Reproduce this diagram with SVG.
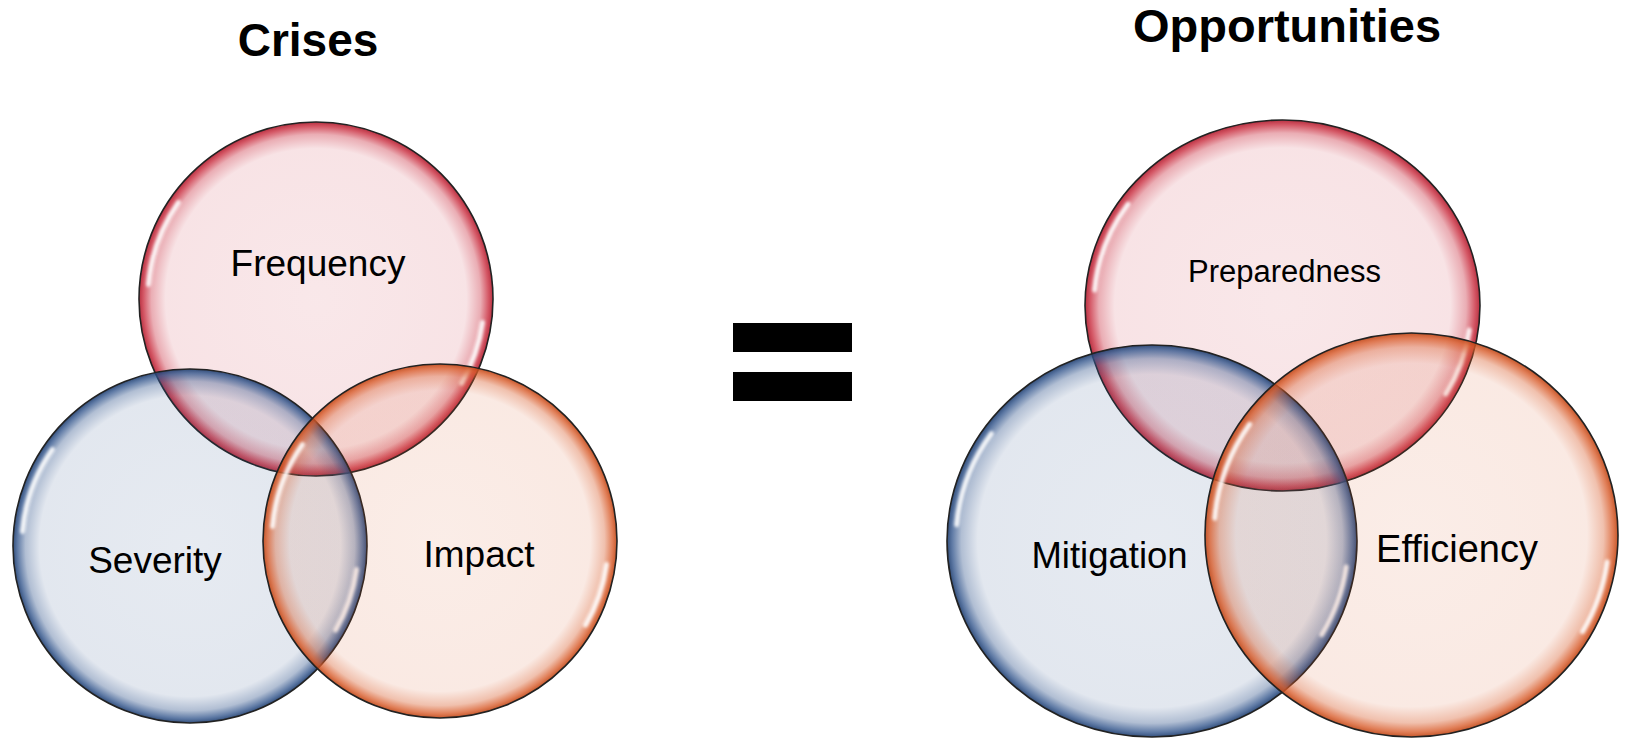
<svg xmlns="http://www.w3.org/2000/svg" width="1632" height="738" viewBox="0 0 1632 738">
<style>
.title{font-family:"Liberation Sans",Arial,sans-serif;font-weight:bold;fill:#000;text-anchor:middle}
.lbl{font-family:"Liberation Sans",Arial,sans-serif;fill:#000;text-anchor:middle}
.bub{stroke:#222;stroke-width:1.6}
.red{fill:url(#gRed)}
.blue{fill:url(#gBlue)}
.orange{fill:url(#gOrange)}
.hl{fill:none;stroke:#fff;stroke-width:5;stroke-linecap:round;opacity:0.9;filter:url(#blur)}
</style>
<defs>
<radialGradient id="gRed" cx="0.5" cy="0.5" r="0.5">
<stop offset="0" stop-color="#C8283A" stop-opacity="0.11"/>
<stop offset="0.85" stop-color="#C8283A" stop-opacity="0.13"/>
<stop offset="0.93" stop-color="#C8283A" stop-opacity="0.38"/>
<stop offset="0.975" stop-color="#C8283A" stop-opacity="0.78"/>
<stop offset="1" stop-color="#B01E30" stop-opacity="0.92"/>
</radialGradient>
<radialGradient id="gBlue" cx="0.5" cy="0.5" r="0.5">
<stop offset="0" stop-color="#32558C" stop-opacity="0.12"/>
<stop offset="0.85" stop-color="#32558C" stop-opacity="0.14"/>
<stop offset="0.93" stop-color="#32558C" stop-opacity="0.38"/>
<stop offset="0.975" stop-color="#32558C" stop-opacity="0.78"/>
<stop offset="1" stop-color="#203F70" stop-opacity="0.92"/>
</radialGradient>
<radialGradient id="gOrange" cx="0.5" cy="0.5" r="0.5">
<stop offset="0" stop-color="#D85A28" stop-opacity="0.11"/>
<stop offset="0.85" stop-color="#D85A28" stop-opacity="0.13"/>
<stop offset="0.93" stop-color="#D85A28" stop-opacity="0.38"/>
<stop offset="0.975" stop-color="#D85A28" stop-opacity="0.78"/>
<stop offset="1" stop-color="#C04818" stop-opacity="0.92"/>
</radialGradient>
<filter id="blur" x="-20%" y="-20%" width="140%" height="140%"><feGaussianBlur stdDeviation="1.5"/></filter>
</defs>
<rect width="1632" height="738" fill="#fff"/>

<text class="title" x="308" y="56" font-size="46">Crises</text>
<text class="title" x="1287" y="42" font-size="47">Opportunities</text>

<g id="n-frequency" transform="translate(316 299)">
<circle class="bub red" r="177"/>
<path class="hl" d="M-167.4,-14.6 A168,168 0 0 1 -137.6,-96.4 M166.4,23.4 A168,168 0 0 1 145.5,84"/>
<text class="lbl" x="2" y="-23" font-size="37">Frequency</text>
</g>
<g id="n-severity" transform="translate(190 546)">
<circle class="bub blue" r="177"/>
<path class="hl" d="M-167.4,-14.6 A168,168 0 0 1 -137.6,-96.4 M166.4,23.4 A168,168 0 0 1 145.5,84"/>
<text class="lbl" x="-35" y="27" font-size="37">Severity</text>
</g>
<g id="n-impact" transform="translate(440 541)">
<circle class="bub orange" r="177"/>
<path class="hl" d="M-167.4,-14.6 A168,168 0 0 1 -137.6,-96.4 M166.4,23.4 A168,168 0 0 1 145.5,84"/>
<text class="lbl" x="39" y="26" font-size="37">Impact</text>
</g>

<g id="n-equals">
<rect x="733" y="323" width="119" height="29" fill="#000"/>
<rect x="733" y="372" width="119" height="29" fill="#000"/>
</g>

<g id="n-preparedness" transform="translate(1282.5 305.5)">
<ellipse class="bub red" rx="197.5" ry="185.5"/>
<path class="hl" d="M-187.8,-15.4 A188.5,176.5 0 0 1 -154.4,-101.2 M186.7,24.6 A188.5,176.5 0 0 1 163.2,88.3"/>
<text class="lbl" x="2" y="-23.5" font-size="31">Preparedness</text>
</g>
<g id="n-mitigation" transform="translate(1152 541)">
<ellipse class="bub blue" rx="205" ry="196"/>
<path class="hl" d="M-195.3,-16.3 A196,187 0 0 1 -160.6,-107.3 M194.1,26 A196,187 0 0 1 169.7,93.5"/>
<text class="lbl" x="-42.5" y="27" font-size="36.5">Mitigation</text>
</g>
<g id="n-efficiency" transform="translate(1411.5 535)">
<ellipse class="bub orange" rx="206.5" ry="202"/>
<path class="hl" d="M-196.7,-16.8 A197.5,193 0 0 1 -161.8,-110.7 M195.6,26.9 A197.5,193 0 0 1 171,96.5"/>
<text class="lbl" x="45.5" y="27" font-size="38">Efficiency</text>
</g>

<g id="connectors"/>
</svg>
